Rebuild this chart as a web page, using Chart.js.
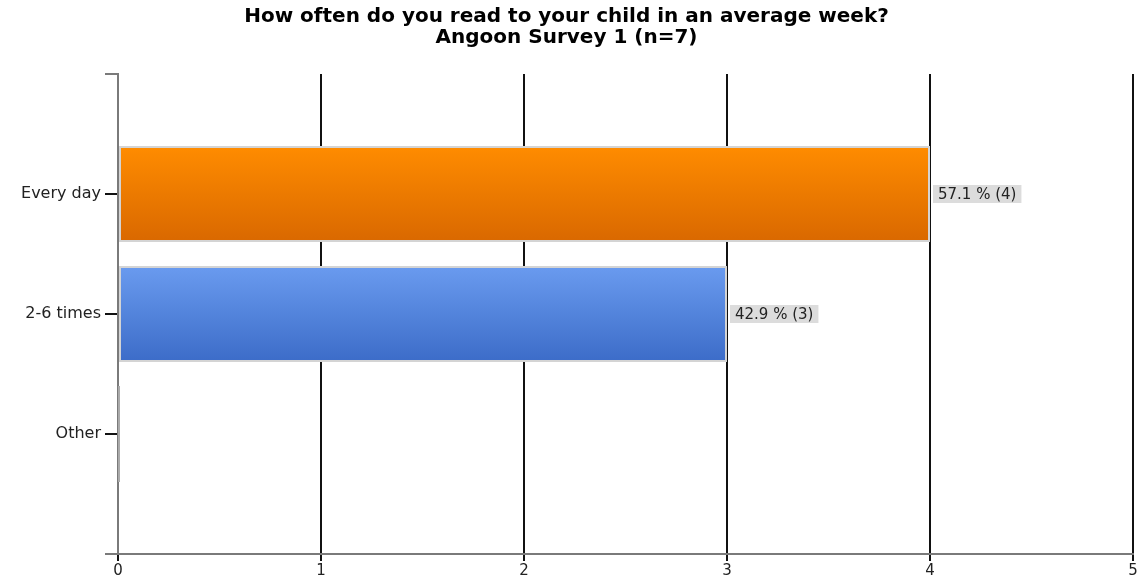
<!DOCTYPE html>
<html>
<head>
<meta charset="utf-8">
<script src="https://cdn.jsdelivr.net/npm/chart.js@4"></script>
<style>
  html, body { margin: 0; padding: 0; background: #fff; }
  #wrap { width: 1142px; height: 577px; }
</style>
</head>
<body>
<div id="wrap"><canvas id="readChart"></canvas></div>
<script>
const categories = ['Every day', '2-6 times', 'Other'];
const counts = [4, 3, 0];
const xTicks = [0, 1, 2, 3, 4, 5];
const titleLines = ['How often do you read to your child in an average week?', 'Angoon Survey 1 (n=7)'];

// top / bottom colours of each bar's vertical gradient
const gradTop = ['#ff8c00', '#6a9bef', '#999999'];
const gradBottom = ['#d96800', '#3c6cc8', '#777777'];

const total = counts.reduce((a, b) => a + b, 0);

// the category axis keeps an empty slot above and below the three answers
const axisLabels = ['', ...categories, ''];
const axisData = [null, ...counts, null];

function barGradient(c) {
  const chart = c.chart;
  const y = chart.scales.y;
  const i = c.dataIndex;
  const k = i - 1;
  if (!y || !chart.chartArea || k < 0 || k >= categories.length) return gradTop[0];
  const mid = y.getPixelForValue(i);
  const half = Math.abs(y.getPixelForValue(1) - y.getPixelForValue(0)) * 0.8 / 2;
  const g = chart.ctx.createLinearGradient(0, mid - half, 0, mid + half);
  g.addColorStop(0, gradTop[k]);
  g.addColorStop(1, gradBottom[k]);
  return g;
}

// value labels and the stub of the zero bar
const extras = {
  id: 'extras',
  afterDatasetsDraw(chart) {
    const ctx = chart.ctx;
    const meta = chart.getDatasetMeta(0);
    ctx.save();
    meta.data.forEach((bar, i) => {
      const v = axisData[i];
      if (v === null || v === undefined) return;
      if (v === 0) {
        ctx.strokeStyle = '#aaaaaa';
        ctx.lineWidth = 2;
        ctx.beginPath();
        ctx.moveTo(bar.x + 1, bar.y - bar.height / 2);
        ctx.lineTo(bar.x + 1, bar.y + bar.height / 2);
        ctx.stroke();
        return;
      }
      const txt = (v / total * 100).toFixed(1) + ' % (' + v + ')';
      ctx.font = '15px "DejaVu Sans"';
      const w = ctx.measureText(txt).width;
      const x0 = bar.x + 3;
      ctx.fillStyle = '#dcdcdc';
      ctx.fillRect(x0, bar.y - 9, w + 10, 18);
      ctx.fillStyle = '#222';
      ctx.textBaseline = 'middle';
      ctx.fillText(txt, x0 + 5, bar.y + 1);
    });
    ctx.restore();
  }
};

new Chart(document.getElementById('readChart'), {
  type: 'bar',
  data: {
    labels: axisLabels,
    datasets: [{
      data: axisData,
      backgroundColor: barGradient,
      borderColor: '#d4d4d4',
      borderWidth: 2,
      borderSkipped: false,
      barPercentage: 0.8,
      categoryPercentage: 1
    }]
  },
  options: {
    indexAxis: 'y',
    responsive: true,
    maintainAspectRatio: false,
    animation: false,
    layout: { padding: { left: 0, right: 9, top: 0, bottom: 0 } },
    plugins: {
      legend: { display: false },
      tooltip: { enabled: false },
      title: {
        display: true,
        text: titleLines,
        color: '#000',
        font: { family: '"DejaVu Sans"', size: 20, weight: 'bold', lineHeight: 1.05 },
        padding: { top: 6, bottom: 26 }
      }
    },
    scales: {
      x: {
        min: 0,
        max: 5,
        afterBuildTicks(s) { s.ticks = xTicks.map(v => ({ value: v })); },
        afterFit(s) { s.height = 23; },
        grid: { color: '#111', lineWidth: 2, tickLength: 7 },
        border: { color: '#7a7a7a', width: 2 },
        ticks: { color: '#222', padding: 1, font: { family: '"DejaVu Sans"', size: 15 } }
      },
      y: {
        offset: false,
        afterFit(s) { s.width = 118; },
        grid: {
          drawOnChartArea: false,
          offset: false,
          color: c => (c.index === 0 || c.index === axisLabels.length - 1) ? '#7a7a7a' : '#111',
          lineWidth: 2,
          tickLength: 13
        },
        border: { color: '#7a7a7a', width: 2 },
        ticks: { color: '#222', padding: 4, font: { family: '"DejaVu Sans"', size: 16 } }
      }
    }
  },
  plugins: [extras]
});
</script>
</body>
</html>
